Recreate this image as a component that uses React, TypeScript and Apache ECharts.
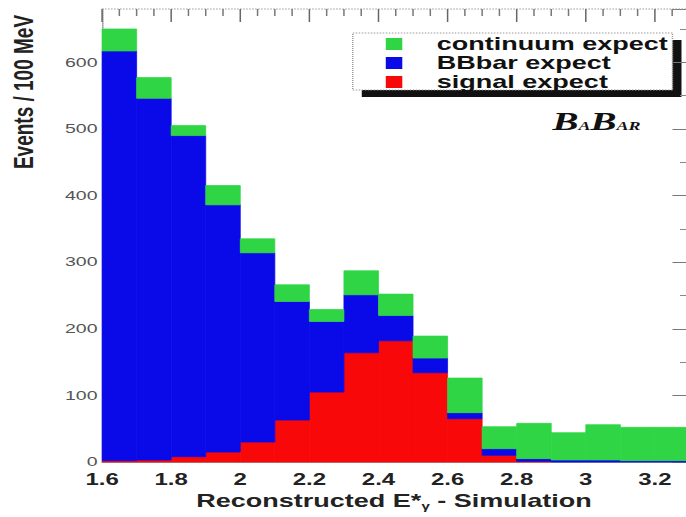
import React, { useEffect, useRef } from "react";
import * as echarts from "echarts";

// Bin lower edges (GeV), bin width 0.1
const binLow = [1.6, 1.7, 1.8, 1.9, 2.0, 2.1, 2.2, 2.3, 2.4, 2.5, 2.6, 2.7, 2.8, 2.9, 3.0, 3.1, 3.2];
const binWidth = 0.1;
// Events / 100 MeV per component (stacked: signal, then BBbar, then continuum)
const signalExpect = [2, 3, 8, 15, 30, 63, 105, 164, 182, 134, 65, 10, 1, 0, 0, 0, 0];
const bbbarExpect = [615, 543, 482, 371, 284, 178, 106, 87, 38, 22, 9, 10, 4, 3, 3, 2, 2];
const continuumExpect = [33, 31, 15, 29, 21, 25, 18, 36, 32, 33, 52, 33, 53, 41, 53, 50, 50];

// Tick positions of the upper frame axis (major every 0.2)
const topTicks = [
  1.6, 1.65, 1.7, 1.75, 1.8, 1.85, 1.9, 1.95, 2.0, 2.05, 2.1, 2.15, 2.2, 2.25, 2.3, 2.35, 2.4,
  2.45, 2.5, 2.55, 2.6, 2.65, 2.7, 2.75, 2.8, 2.85, 2.9, 2.95, 3.0, 3.05, 3.1, 3.15, 3.2, 3.25,
];

const seriesNames = ["signal expect", "BBbar expect", "continuum expect"];
const seriesColors = ["#f80808", "#0a0ae8", "#2fd545"];
const legendOrder = ["continuum expect", "BBbar expect", "signal expect"];

const xTitle = "Reconstructed E*";
const xTitleSub = "γ";
const xTitleEnd = " - Simulation";
const yTitle = "Events / 100 MeV";

const NATIVE_W = 457;
const PAGE_W = 686;
const PAGE_H = 517;
const FONT = "'Liberation Sans', Arial, Helvetica, sans-serif";

export default function App() {
  const ref = useRef<HTMLDivElement>(null);

  useEffect(() => {
    if (!ref.current) return;
    const chart = echarts.init(ref.current, undefined, { renderer: "svg" });

    const comps = [signalExpect, bbbarExpect, continuumExpect];
    const base = binLow.map(() => 0);
    const series: any[] = comps.map((vals, k) => {
      const data = binLow.map((lo, i) => {
        const b = base[i];
        const t = b + vals[i];
        base[i] = t;
        return [lo, lo + binWidth, b, t];
      });
      const color = seriesColors[k];
      return {
        type: "custom",
        name: seriesNames[k],
        xAxisIndex: 0,
        yAxisIndex: 0,
        encode: { x: [0, 1], y: [2, 3] },
        data,
        z: 2,
        renderItem: (params: any, api: any) => {
          const lo = api.value(0);
          const hi = api.value(1);
          const b = api.value(2);
          const t = api.value(3);
          if (t - b <= 0) return null;
          const p0 = api.coord([lo, t]);
          const p1 = api.coord([hi, b]);
          const cs = params.coordSys;
          const rect = echarts.graphic.clipRectByRect(
            { x: p0[0], y: p0[1], width: p1[0] - p0[0], height: p1[1] - p0[1] },
            { x: cs.x, y: cs.y, width: cs.width, height: cs.height }
          );
          if (!rect) return null;
          return {
            type: "rect",
            shape: rect,
            style: { fill: color, stroke: color, lineWidth: 0.6 },
          };
        },
      };
    });

    // upper frame: axis line and ticks, placed through the x scale
    series.push({
      type: "custom",
      name: "frame",
      xAxisIndex: 0,
      yAxisIndex: 0,
      encode: { x: 0 },
      data: topTicks.map((v) => [v]),
      z: 5,
      silent: true,
      renderItem: (params: any, api: any) => {
        const v = api.value(0);
        const cs = params.coordSys;
        const x = api.coord([v, 0])[0];
        const k = (v - 1.6) / 0.2;
        const major = Math.abs(k - Math.round(k)) < 1e-6;
        const children: any[] = [
          {
            type: "line",
            shape: { x1: x, y1: cs.y, x2: x, y2: cs.y + (major ? 13 : 7) },
            style: { stroke: major ? "#666" : "#777", lineWidth: 1 },
          },
        ];
        if (params.dataIndex === 0) {
          children.push({
            type: "line",
            shape: { x1: cs.x, y1: cs.y, x2: cs.x + cs.width, y2: cs.y },
            style: { stroke: "#999", lineWidth: 1, lineDash: [1, 1] },
          });
        }
        return { type: "group", children };
      },
    });

    const legendChildren: any[] = [
      { type: "rect", shape: { x: 241, y: 40, width: 213, height: 57 }, style: { fill: "#111" } },
      {
        type: "rect",
        shape: { x: 235, y: 33, width: 213, height: 57 },
        style: { fill: "#fff", stroke: "#999", lineWidth: 1, lineDash: [1, 1] },
      },
    ];
    legendOrder.forEach((name, j) => {
      const color = seriesColors[seriesNames.indexOf(name)];
      legendChildren.push({
        type: "rect",
        shape: { x: 257, y: 38 + j * 19, width: 11, height: 12 },
        style: { fill: color },
      });
      legendChildren.push({
        type: "text",
        x: 291,
        y: 44 + j * 19,
        style: {
          text: name,
          fontSize: 18,
          fontWeight: "bold",
          fontFamily: FONT,
          fill: "#111",
          textAlign: "left",
          textVerticalAlign: "middle",
        },
      });
    });

    const option: any = {
      animation: false,
      backgroundColor: "#fff",
      grid: { left: 68, right: 0, top: 9, bottom: 55 },
      xAxis: [
        {
          type: "value",
          position: "bottom",
          min: 1.6,
          max: 3.29,
          interval: 0.2,
          axisLine: { show: true, onZero: false, lineStyle: { color: "#999", width: 1 } },
          axisTick: { show: false },
          splitLine: { show: false },
          axisLabel: {
            showMaxLabel: false,
            fontSize: 16,
            fontWeight: "bold",
            fontFamily: FONT,
            color: "#222",
            margin: 9,
          },
          name: `{a|${xTitle}}{s|${xTitleSub}}{a|${xTitleEnd}}`,
          nameLocation: "middle",
          nameGap: 24,
          nameTextStyle: {
            fontSize: 18,
            fontWeight: "bold",
            fontFamily: FONT,
            color: "#222",
            rich: {
              a: { fontSize: 18, fontWeight: "bold", fontFamily: FONT, color: "#222" },
              s: { fontSize: 10, fontWeight: "bold", fontFamily: FONT, color: "#222", padding: [12, 0, 0, 0] },
            },
          },
        },
      ],
      yAxis: [
        {
          type: "value",
          position: "left",
          min: 0,
          max: 680,
          interval: 100,
          axisLine: { show: true, onZero: false, lineStyle: { color: "#999", width: 1, type: "dotted" } },
          axisTick: { show: false },
          splitLine: { show: false },
          axisLabel: {
            showMaxLabel: false,
            fontSize: 13,
            fontFamily: FONT,
            color: "#555",
            margin: 3,
          },
        },
        {
          type: "value",
          position: "right",
          min: 0,
          max: 680,
          interval: 100,
          axisLine: { show: false, onZero: false },
          axisTick: { show: true, inside: true, length: 9, lineStyle: { color: "#777" } },
          minorTick: { show: true, splitNumber: 2, length: 4, lineStyle: { color: "#888" } },
          axisLabel: { show: false },
          splitLine: { show: false },
        },
      ],
      series,
      graphic: [
        { type: "group", z: 100, children: legendChildren },
        {
          type: "text",
          z: 100,
          x: 368,
          y: 134,
          style: {
            text: "{b|B}{s|A}{b|B}{s|AR}",
            textAlign: "left",
            textVerticalAlign: "bottom",
            rich: {
              b: {
                fontSize: 26,
                fontWeight: "bold",
                fontStyle: "italic",
                fontFamily: "'Liberation Serif', 'DejaVu Serif', serif",
                fill: "#111",
                verticalAlign: "bottom",
              },
              s: {
                fontSize: 12,
                fontWeight: "bold",
                fontStyle: "italic",
                fontFamily: "'Liberation Serif', 'DejaVu Serif', serif",
                fill: "#111",
                verticalAlign: "bottom",
                padding: [0, 0, 2, 0],
              },
            },
          },
        },
        {
          type: "text",
          z: 100,
          x: 15,
          y: 92,
          rotation: Math.PI / 2,
          style: {
            text: yTitle,
            fontSize: 19,
            fontWeight: "bold",
            fontFamily: FONT,
            fill: "#222",
            textAlign: "center",
            textVerticalAlign: "middle",
          },
        },
      ],
    };

    chart.setOption(option);
    return () => chart.dispose();
  }, []);

  return (
    <div
      style={{
        position: "fixed",
        left: 0,
        top: 0,
        width: PAGE_W,
        height: PAGE_H,
        overflow: "hidden",
        background: "#fff",
      }}
    >
      <div
        ref={ref}
        style={{
          width: NATIVE_W,
          height: PAGE_H,
          transform: `scaleX(${PAGE_W / NATIVE_W})`,
          transformOrigin: "0 0",
        }}
      />
    </div>
  );
}
